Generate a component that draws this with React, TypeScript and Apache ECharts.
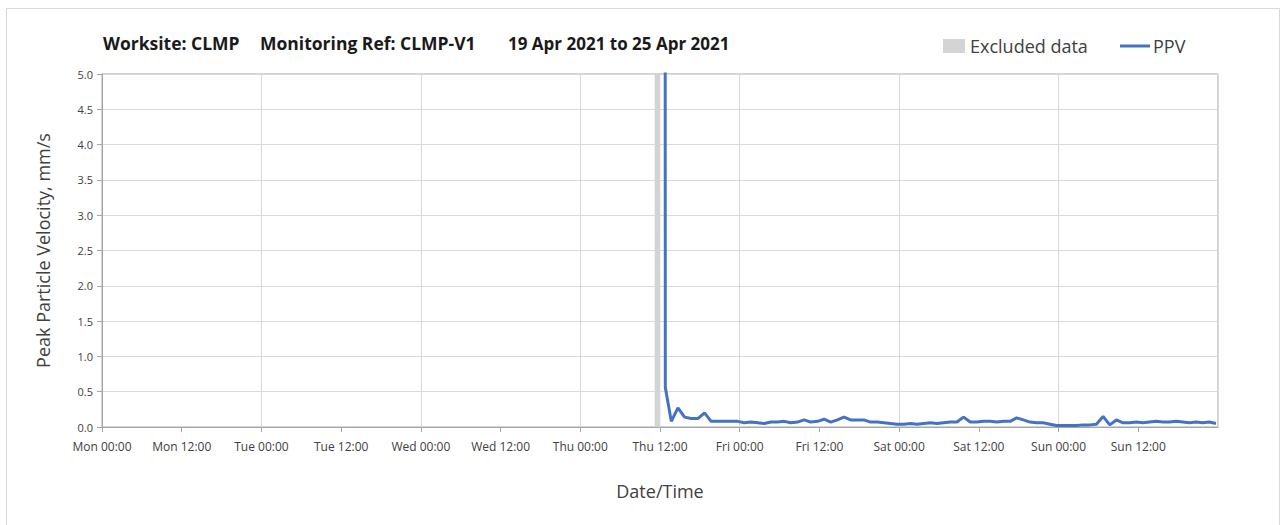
import React, { useEffect, useRef } from "react";
import * as echarts from "echarts";

// Hours since Mon 19 Apr 2021 00:00
const ppvTimes: number[] = [
  84.7, 84.8, 85.7, 86.7, 87.7, 88.7, 89.7, 90.7, 91.7, 92.7, 93.7, 94.7, 95.7,
  96.7, 97.7, 98.7, 99.7, 100.7, 101.7, 102.7, 103.7, 104.7, 105.7, 106.7, 107.7,
  108.7, 109.7, 110.7, 111.7, 112.7, 113.7, 114.7, 115.7, 116.7, 117.7, 118.7,
  119.7, 120.7, 121.7, 122.7, 123.7, 124.7, 125.7, 126.7, 127.7, 128.7, 129.7,
  130.7, 131.7, 132.7, 133.7, 134.7, 135.7, 136.7, 137.7, 138.7, 139.7, 140.7,
  141.7, 142.7, 143.7, 144.7, 145.7, 146.7, 147.7, 148.7, 149.7, 150.7, 151.7,
  152.7, 153.7, 154.7, 155.7, 156.7, 157.7, 158.7, 159.7, 160.7, 161.7, 162.7,
  163.7, 164.7, 165.7, 166.7, 167.7,
];
const ppvValues: number[] = [
  30, 0.56, 0.08, 0.27, 0.14, 0.12, 0.12, 0.2, 0.08, 0.08, 0.08, 0.08, 0.08,
  0.06, 0.07, 0.06, 0.05, 0.07, 0.07, 0.08, 0.06, 0.07, 0.1, 0.07, 0.08,
  0.11, 0.07, 0.1, 0.14, 0.1, 0.1, 0.1, 0.07, 0.07, 0.06, 0.05,
  0.04, 0.04, 0.05, 0.04, 0.05, 0.06, 0.05, 0.06, 0.07, 0.07, 0.14,
  0.07, 0.07, 0.08, 0.08, 0.07, 0.08, 0.08, 0.13, 0.1, 0.07, 0.06,
  0.06, 0.04, 0.02, 0.02, 0.02, 0.02, 0.03, 0.03, 0.04, 0.15, 0.03,
  0.1, 0.06, 0.06, 0.07, 0.06, 0.07, 0.08, 0.07, 0.07, 0.08, 0.07,
  0.06, 0.07, 0.06, 0.07, 0.05,
];
const excludedRange: [number, number] = [83.2, 84.05];
const dayNames: string[] = ["Mon", "Tue", "Wed", "Thu", "Fri", "Sat", "Sun", "Mon"];
const titleParts: string[] = ["Worksite: CLMP", "Monitoring Ref: CLMP-V1", "19 Apr 2021 to 25 Apr 2021"];
const legendNames: string[] = ["Excluded data", "PPV"];

const FONT = "'Open Sans', sans-serif";
const TEXT = "#404040";
const BLUE = "#4472C4";
const BAND = "#d4d4d4";

export default function App() {
  const ref = useRef<HTMLDivElement>(null);
  useEffect(() => {
    if (!ref.current) return;
    const chart = echarts.init(ref.current, null, { renderer: "svg" });
    const fmt = (v: number) => {
      const d = Math.floor(v / 24);
      const h = Math.round(v - d * 24);
      return `${dayNames[d]} ${h === 0 ? "00" : "12"}:00`;
    };
    chart.setOption({
      animation: false,
      textStyle: { fontFamily: FONT },
      grid: { left: 102, right: 66, top: 74, bottom: 98, show: true, borderColor: "#a6a6a6", borderWidth: 1 },
      graphic: [
        { type: "rect", shape: { x: 6.5, y: 8.5, width: 1273, height: 530 }, style: { fill: "none", stroke: "#d9d9d9", lineWidth: 1 }, silent: true },
        { type: "text", x: 103, y: 43, style: { text: titleParts[0], font: `bold 17.5px ${FONT}`, fill: "#1a1a1a", textVerticalAlign: "middle" } },
        { type: "text", x: 260, y: 43, style: { text: titleParts[1], font: `bold 17.5px ${FONT}`, fill: "#1a1a1a", textVerticalAlign: "middle" } },
        { type: "text", x: 508, y: 43, style: { text: titleParts[2], font: `bold 17px ${FONT}`, fill: "#1a1a1a", textVerticalAlign: "middle" } },
        { type: "rect", shape: { x: 943, y: 39, width: 22, height: 14 }, style: { fill: BAND } },
        { type: "text", x: 970, y: 46, style: { text: legendNames[0], font: `18px ${FONT}`, fill: TEXT, textVerticalAlign: "middle" } },
        { type: "line", shape: { x1: 1120, y1: 46, x2: 1150, y2: 46 }, style: { stroke: BLUE, lineWidth: 3 } },
        { type: "text", x: 1153, y: 46, style: { text: legendNames[1], font: `18px ${FONT}`, fill: TEXT, textVerticalAlign: "middle" } },
      ],
      xAxis: [
        {
          type: "value", min: 0, max: 168, interval: 12,
          name: "Date/Time", nameLocation: "middle", nameGap: 55,
          nameTextStyle: { fontSize: 18, color: TEXT, fontFamily: FONT },
          axisLine: { show: true, lineStyle: { color: "#a6a6a6" } },
          axisTick: { show: true, length: 5, lineStyle: { color: "#a6a6a6" } },
          axisLabel: { formatter: fmt, fontSize: 12, color: TEXT, margin: 13, showMaxLabel: false, fontFamily: FONT },
          splitLine: { show: false },
        },
        {
          type: "value", min: 0, max: 168, interval: 24, position: "bottom",
          axisLine: { show: false }, axisTick: { show: false }, axisLabel: { show: false },
          splitLine: { show: true, lineStyle: { color: "#d9d9d9" } },
        },
      ],
      yAxis: {
        type: "value", min: 0, max: 5, interval: 0.5,
        name: "Peak Particle Velocity, mm/s", nameLocation: "middle", nameGap: 50,
        nameTextStyle: { fontSize: 18, color: TEXT, fontFamily: FONT },
        axisLine: { show: true, lineStyle: { color: "#a6a6a6" } },
        axisTick: { show: true, length: 5, lineStyle: { color: "#a6a6a6" } },
        axisLabel: { formatter: (v: number) => v.toFixed(1), fontSize: 11, color: TEXT, margin: 9, fontFamily: FONT },
        splitLine: { show: true, lineStyle: { color: "#d9d9d9" } },
      },
      series: [
        {
          name: legendNames[0], type: "line", xAxisIndex: 0, data: [],
          markArea: { silent: true, itemStyle: { color: BAND }, data: [[{ xAxis: excludedRange[0] }, { xAxis: excludedRange[1] }]] },
        },
        {
          name: legendNames[1], type: "line", xAxisIndex: 0, showSymbol: false, symbol: "none",
          lineStyle: { color: BLUE, width: 3 },
          data: ppvTimes.map((t, i) => [t, ppvValues[i]]),
        },
      ],
    });
    return () => chart.dispose();
  }, []);
  return <div ref={ref} style={{ position: "absolute", left: 0, top: 0, width: 1284, height: 525 }} />;
}
